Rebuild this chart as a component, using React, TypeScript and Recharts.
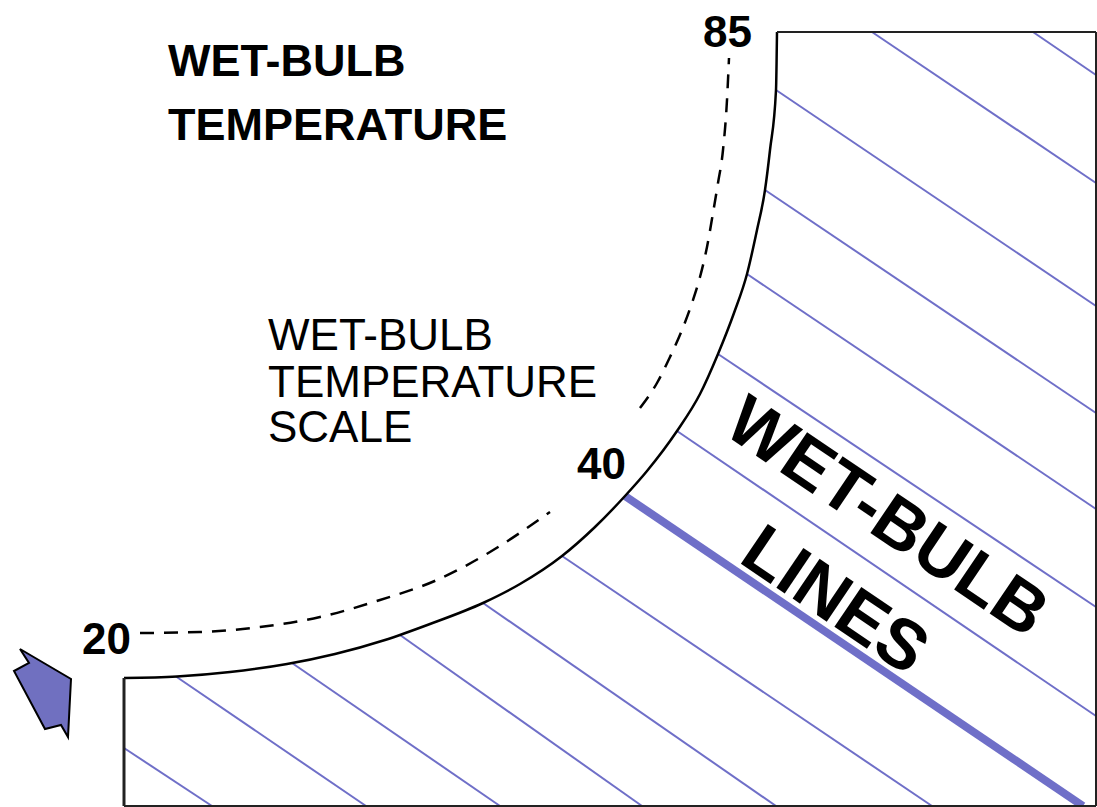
import React from 'react';
import { ComposedChart, Line, Scatter, XAxis, YAxis } from 'recharts';

type Pt = [number, number];

// chart units: tenths of the figure, y measured downwards from the top
const saturationCurve: Pt[] = [
  [12.4, 67.8], [17.7, 67.65], [23.0, 67.2], [28.7, 66.4], [33.5, 65.4], [38.5, 64.0],
  [43.0, 62.4], [48.3, 60.3], [52.0, 58.4], [56.2, 55.6], [59.5, 52.7], [62.5, 49.6],
  [64.7, 47.1], [67.7, 43.1], [70.0, 39.4], [71.8, 35.4], [73.4, 31.3], [74.7, 27.4],
  [75.7, 23.0], [76.5, 19.0], [77.0, 15.0], [77.6, 9.0], [77.7, 3.2]
];

// dashed wet-bulb scale, broken where the "40" sits
const scaleLower: Pt[] = [
  [14.0, 63.3], [20.0, 63.2], [26.0, 62.7], [32.0, 61.7], [38.0, 60.0], [43.7, 58.0],
  [49.0, 55.2], [55.0, 51.2]
];
const scaleUpper: Pt[] = [
  [64.0, 40.8], [65.7, 38.3], [67.0, 35.7], [68.2, 33.0], [69.2, 30.3], [70.0, 27.7],
  [70.7, 24.7], [71.3, 21.3], [71.8, 18.3], [72.3, 15.0], [72.7, 10.0], [72.9, 5.8]
];

// wet-bulb lines: upper-left end and lower-right end
const wetBulbStart: Pt[] = [
  [103.3, 3.2], [87.2, 3.2], [77.6, 9.0], [76.5, 19.0], [74.7, 27.4], [71.8, 35.4],
  [67.7, 43.1], [62.5, 49.6], [56.2, 55.6], [48.3, 60.3], [40.0, 63.5], [29.2, 66.3],
  [17.6, 67.65], [12.4, 74.8]
];
const wetBulbEnd: Pt[] = [
  [109.6, 7.5], [109.6, 18.3], [109.6, 30.6], [109.6, 41.3], [109.6, 50.9], [109.6, 60.7],
  [109.6, 71.6], [108.3, 80.6], [93.2, 80.6], [77.6, 80.6], [64.2, 80.6], [50.0, 80.6],
  [36.6, 80.6], [21.2, 80.6]
];
const highlighted = 7; // the 40 degree line

const frame: [Pt, Pt][] = [
  [[77.7, 3.2], [109.6, 3.2]],
  [[109.6, 3.2], [109.6, 80.6]],
  [[12.4, 80.6], [109.6, 80.6]],
  [[12.4, 67.8], [12.4, 80.6]]
];

const labels = [
  { kind: 'title', text: 'WET-BULB', x: 16.8, y: 7.6 },
  { kind: 'title', text: 'TEMPERATURE', x: 16.8, y: 14.0 },
  { kind: 'note', text: 'WET-BULB', x: 26.8, y: 35.0 },
  { kind: 'note', text: 'TEMPERATURE', x: 26.8, y: 39.7 },
  { kind: 'note', text: 'SCALE', x: 26.8, y: 44.2 },
  { kind: 'tick', text: '85', x: 70.3, y: 4.7 },
  { kind: 'tick', text: '40', x: 57.7, y: 47.9 },
  { kind: 'tick', text: '20', x: 8.2, y: 65.4 },
  { kind: 'big', text: 'WET-BULB', x: 88.8, y: 51.6 },
  { kind: 'big', text: 'LINES', x: 83.6, y: 59.9 }
];

const arrowAt = [{ x: 4.2, y: 69.3 }];

const FONT = '"Liberation Sans", Arial, Helvetica, sans-serif';
const LINE_BLUE = '#6f6fc8';

const labelStyle: Record<string, any> = {
  title: { size: 45, weight: 'bold', anchor: 'start', rotate: 0 },
  note: { size: 44, weight: 'normal', anchor: 'start', rotate: 0 },
  tick: { size: 44, weight: 'bold', anchor: 'start', rotate: 0 },
  big: { size: 70, weight: 'bold', anchor: 'middle', rotate: 34 }
};

const rows = (pts: Pt[]) => pts.map(([x, y]) => ({ x, y }));

const renderLabel = (props: any) => {
  const { cx, cy, payload } = props;
  const s = labelStyle[payload.kind];
  return (
    <text
      x={cx}
      y={cy}
      fontFamily={FONT}
      fontSize={s.size}
      fontWeight={s.weight}
      textAnchor={s.anchor}
      dominantBaseline={s.rotate ? 'central' : 'alphabetic'}
      transform={s.rotate ? `rotate(${s.rotate} ${cx} ${cy})` : undefined}
      fill="#000"
    >
      {payload.text}
    </text>
  );
};

const renderArrow = (props: any) => {
  const { cx, cy } = props;
  const shape = [[-22, -44], [29, -14], [26, 44], [19, 32], [3, 36], [-28, -22], [-13, -30]];
  const d = shape.map(([dx, dy]) => `${cx + dx},${cy + dy}`).join(' ');
  return <polygon points={d} fill="#7070c0" stroke="#000" strokeWidth={2} strokeLinejoin="miter" />;
};

export default function App() {
  return (
    <div style={{ position: 'absolute', left: 0, top: 0, background: '#fff' }}>
      <ComposedChart width={1097} height={807} margin={{ top: 0, right: 0, bottom: 0, left: 0 }}>
        <XAxis type="number" dataKey="x" domain={[0, 109.7]} hide />
        <YAxis type="number" dataKey="y" domain={[0, 80.7]} reversed hide />

        {wetBulbStart.map((start, i) => (
          <Line
            key={`wb-${i}`}
            data={rows([start, wetBulbEnd[i]])}
            dataKey="y"
            type="linear"
            stroke={LINE_BLUE}
            strokeWidth={i === highlighted ? 8 : 2}
            dot={false}
            activeDot={false}
            isAnimationActive={false}
          />
        ))}

        <Line
          data={rows(scaleLower)}
          dataKey="y"
          type="monotone"
          stroke="#000"
          strokeWidth={2.5}
          strokeDasharray="14 10"
          dot={false}
          activeDot={false}
          isAnimationActive={false}
        />
        <Line
          data={rows(scaleUpper)}
          dataKey="y"
          type="monotone"
          stroke="#000"
          strokeWidth={2.5}
          strokeDasharray="14 10"
          dot={false}
          activeDot={false}
          isAnimationActive={false}
        />

        <Line
          data={rows(saturationCurve)}
          dataKey="y"
          type="monotone"
          stroke="#000"
          strokeWidth={2.5}
          dot={false}
          activeDot={false}
          isAnimationActive={false}
        />

        {frame.map((seg, i) => (
          <Line
            key={`fr-${i}`}
            data={rows(seg)}
            dataKey="y"
            type="linear"
            stroke="#222"
            strokeWidth={i === 3 ? 3 : 2}
            dot={false}
            activeDot={false}
            isAnimationActive={false}
          />
        ))}

        <Scatter data={labels} dataKey="y" shape={renderLabel} isAnimationActive={false} />
        <Scatter data={arrowAt} dataKey="y" shape={renderArrow} isAnimationActive={false} />
      </ComposedChart>
    </div>
  );
}
